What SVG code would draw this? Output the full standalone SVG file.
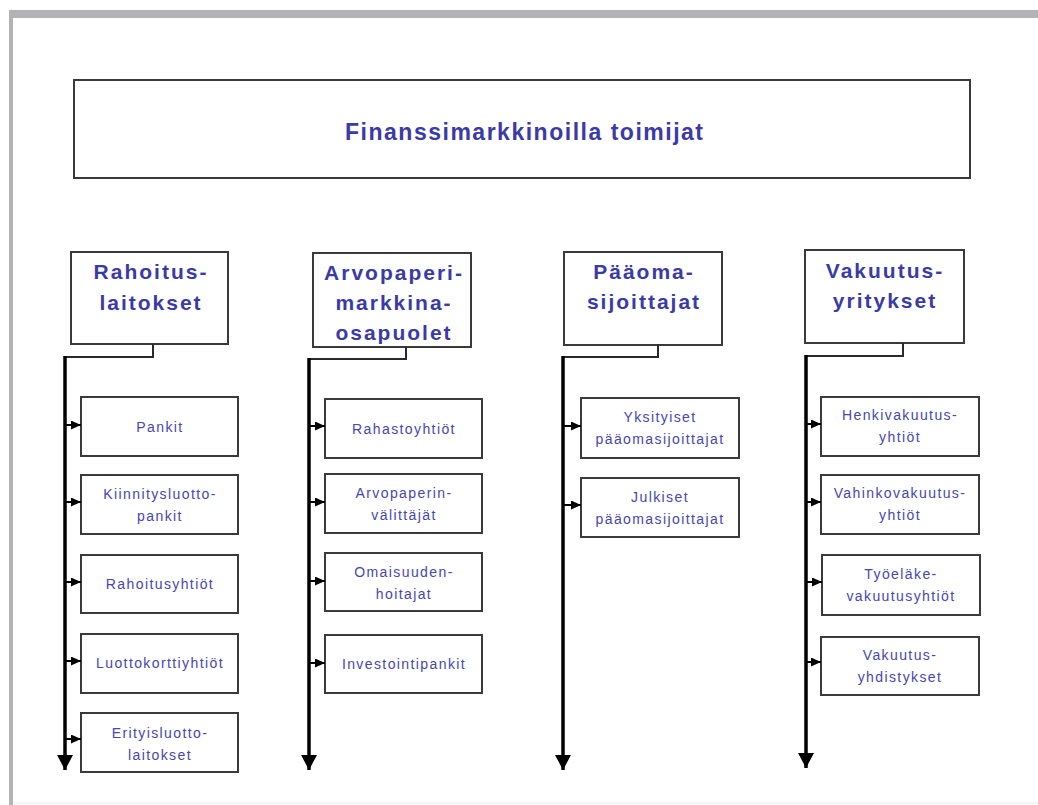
<svg xmlns="http://www.w3.org/2000/svg" width="1038" height="805" viewBox="0 0 1038 805">
  <style>
    .box { fill: #ffffff; stroke: #3a3a3a; stroke-width: 2; }
    .title { font-family: "Liberation Sans", Arial, sans-serif; font-weight: bold; font-size: 23px; fill: #3a3aa8; text-anchor: middle; }
    .head { font-family: "Liberation Sans", Arial, sans-serif; font-weight: bold; font-size: 21px; fill: #3a3aa8; text-anchor: middle; letter-spacing: 2px; }
    .child { font-family: "Liberation Sans", Arial, sans-serif; font-size: 14px; fill: #4646b4; text-anchor: middle; letter-spacing: 1.4px; }
    .trunk { fill: none; stroke: #000; stroke-width: 3.5; }
    .elbow { fill: none; stroke: #2a2a2a; stroke-width: 2; }
    .branch { fill: none; stroke: #000; stroke-width: 2; }
  </style>
  <defs>
    <marker id="bigArrow" markerUnits="userSpaceOnUse" markerWidth="15" markerHeight="16" refX="15" refY="8" orient="auto" viewBox="0 0 15 16">
      <path d="M0,0 L15,8 L0,16 Z" fill="#000"/>
    </marker>
    <marker id="smallArrow" markerUnits="userSpaceOnUse" markerWidth="10" markerHeight="9" refX="10" refY="4.5" orient="auto" viewBox="0 0 10 9">
      <path d="M0,0 L10,4.5 L0,9 Z" fill="#000"/>
    </marker>
  </defs>

  <rect x="0" y="0" width="1038" height="805" fill="#ffffff"/>
  <!-- page frame -->
  <rect x="9" y="10" width="1029" height="8" fill="#b3b3b7"/>
  <rect x="9" y="10" width="4" height="795" fill="#b3b3b7"/>
  <line x1="13" y1="803" x2="1038" y2="803" stroke="#ececec" stroke-width="1"/>

  <g id="title">
    <rect class="box" x="74" y="80" width="896" height="98"/>
    <text class="title" x="524" y="140" textLength="358" lengthAdjust="spacing">Finanssimarkkinoilla toimijat</text>
  </g>

  <!-- Column headers -->
  <g id="h-rahoitus">
    <rect class="box" x="71" y="252" width="157" height="92"/>
    <text class="head" x="151" y="279">Rahoitus-</text>
    <text class="head" x="151" y="310">laitokset</text>
  </g>
  <g id="h-arvopaperi">
    <rect class="box" x="313" y="253" width="158" height="94"/>
    <text class="head" x="394" y="280">Arvopaperi-</text>
    <text class="head" x="394" y="310">markkina-</text>
    <text class="head" x="394" y="340">osapuolet</text>
  </g>
  <g id="h-paaoma">
    <rect class="box" x="564" y="252" width="158" height="93"/>
    <text class="head" x="644" y="279">Pääoma-</text>
    <text class="head" x="644" y="309">sijoittajat</text>
  </g>
  <g id="h-vakuutus">
    <rect class="box" x="805" y="250" width="159" height="93"/>
    <text class="head" x="885" y="278">Vakuutus-</text>
    <text class="head" x="885" y="308">yritykset</text>
  </g>

  <!-- Column 1 children -->
  <g id="c1-pankit">
    <rect class="box" x="81" y="397" width="157" height="59"/>
    <text class="child" x="160" y="432">Pankit</text>
  </g>
  <g id="c1-kiinnitys">
    <rect class="box" x="81" y="475" width="157" height="59"/>
    <text class="child" x="160" y="499">Kiinnitysluotto-</text>
    <text class="child" x="160" y="521">pankit</text>
  </g>
  <g id="c1-rahoitusyhtiot">
    <rect class="box" x="81" y="555" width="157" height="58"/>
    <text class="child" x="160" y="589">Rahoitusyhtiöt</text>
  </g>
  <g id="c1-luottokortti">
    <rect class="box" x="81" y="634" width="157" height="59"/>
    <text class="child" x="160" y="668">Luottokorttiyhtiöt</text>
  </g>
  <g id="c1-erityis">
    <rect class="box" x="81" y="713" width="157" height="59"/>
    <text class="child" x="160" y="738">Erityisluotto-</text>
    <text class="child" x="160" y="760">laitokset</text>
  </g>

  <!-- Column 2 children -->
  <g id="c2-rahasto">
    <rect class="box" x="325" y="399" width="157" height="59"/>
    <text class="child" x="404" y="434">Rahastoyhtiöt</text>
  </g>
  <g id="c2-valittajat">
    <rect class="box" x="325" y="474" width="157" height="59"/>
    <text class="child" x="404" y="498">Arvopaperin-</text>
    <text class="child" x="404" y="520">välittäjät</text>
  </g>
  <g id="c2-omaisuus">
    <rect class="box" x="325" y="553" width="157" height="58"/>
    <text class="child" x="404" y="577">Omaisuuden-</text>
    <text class="child" x="404" y="599">hoitajat</text>
  </g>
  <g id="c2-investointi">
    <rect class="box" x="325" y="635" width="157" height="58"/>
    <text class="child" x="404" y="669">Investointipankit</text>
  </g>

  <!-- Column 3 children -->
  <g id="c3-yksityiset">
    <rect class="box" x="581" y="398" width="158" height="60"/>
    <text class="child" x="660" y="422">Yksityiset</text>
    <text class="child" x="660" y="444">pääomasijoittajat</text>
  </g>
  <g id="c3-julkiset">
    <rect class="box" x="581" y="478" width="158" height="59"/>
    <text class="child" x="660" y="502">Julkiset</text>
    <text class="child" x="660" y="524">pääomasijoittajat</text>
  </g>

  <!-- Column 4 children -->
  <g id="c4-henki">
    <rect class="box" x="821" y="397" width="158" height="59"/>
    <text class="child" x="900" y="420">Henkivakuutus-</text>
    <text class="child" x="900" y="442">yhtiöt</text>
  </g>
  <g id="c4-vahinko">
    <rect class="box" x="821" y="475" width="158" height="59"/>
    <text class="child" x="900" y="498">Vahinkovakuutus-</text>
    <text class="child" x="900" y="520">yhtiöt</text>
  </g>
  <g id="c4-tyoelake">
    <rect class="box" x="822" y="555" width="158" height="60"/>
    <text class="child" x="901" y="579">Työeläke-</text>
    <text class="child" x="901" y="601">vakuutusyhtiöt</text>
  </g>
  <g id="c4-vakuutusyhd">
    <rect class="box" x="821" y="637" width="158" height="58"/>
    <text class="child" x="900" y="660">Vakuutus-</text>
    <text class="child" x="900" y="682">yhdistykset</text>
  </g>

  <!-- Connectors -->
  <g id="connectors">
    <!-- column 1 -->
    <polyline class="elbow" points="153,344 153,357 65,357"/>
    <line class="trunk" x1="65" y1="356" x2="65" y2="770" marker-end="url(#bigArrow)"/>
    <line class="branch" x1="65" y1="425" x2="81" y2="425" marker-end="url(#smallArrow)"/>
    <line class="branch" x1="65" y1="502" x2="81" y2="502" marker-end="url(#smallArrow)"/>
    <line class="branch" x1="65" y1="582" x2="81" y2="582" marker-end="url(#smallArrow)"/>
    <line class="branch" x1="65" y1="661" x2="81" y2="661" marker-end="url(#smallArrow)"/>
    <line class="branch" x1="65" y1="739" x2="81" y2="739" marker-end="url(#smallArrow)"/>

    <!-- column 2 -->
    <polyline class="elbow" points="406,347 406,359 309,359"/>
    <line class="trunk" x1="309" y1="358" x2="309" y2="770" marker-end="url(#bigArrow)"/>
    <line class="branch" x1="309" y1="426" x2="325" y2="426" marker-end="url(#smallArrow)"/>
    <line class="branch" x1="309" y1="502" x2="325" y2="502" marker-end="url(#smallArrow)"/>
    <line class="branch" x1="309" y1="581" x2="325" y2="581" marker-end="url(#smallArrow)"/>
    <line class="branch" x1="309" y1="663" x2="325" y2="663" marker-end="url(#smallArrow)"/>

    <!-- column 3 -->
    <polyline class="elbow" points="658,345 658,357 563,357"/>
    <line class="trunk" x1="563" y1="356" x2="563" y2="770" marker-end="url(#bigArrow)"/>
    <line class="branch" x1="563" y1="426" x2="581" y2="426" marker-end="url(#smallArrow)"/>
    <line class="branch" x1="563" y1="505" x2="581" y2="505" marker-end="url(#smallArrow)"/>

    <!-- column 4 -->
    <polyline class="elbow" points="903,343 903,356 806,356"/>
    <line class="trunk" x1="806" y1="355" x2="806" y2="768" marker-end="url(#bigArrow)"/>
    <line class="branch" x1="806" y1="424" x2="821" y2="424" marker-end="url(#smallArrow)"/>
    <line class="branch" x1="806" y1="502" x2="821" y2="502" marker-end="url(#smallArrow)"/>
    <line class="branch" x1="806" y1="582" x2="822" y2="582" marker-end="url(#smallArrow)"/>
    <line class="branch" x1="806" y1="662" x2="821" y2="662" marker-end="url(#smallArrow)"/>
  </g>
</svg>
